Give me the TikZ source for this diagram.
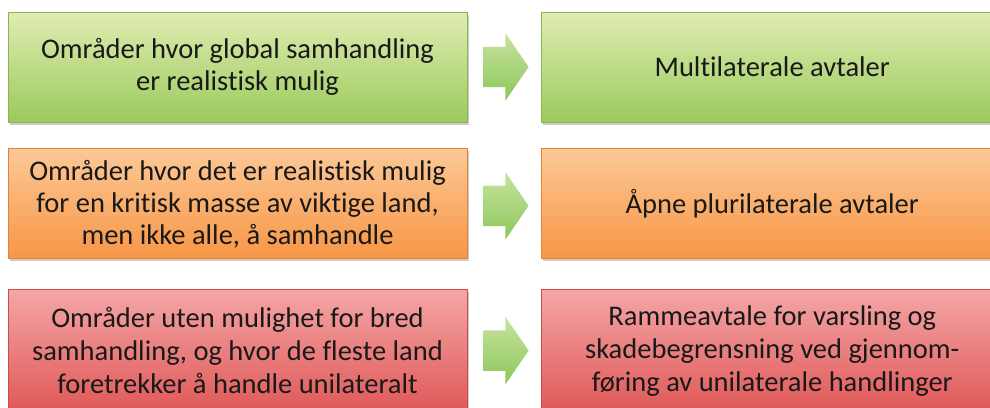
\documentclass[tikz,border=0pt]{standalone}
\usepackage{fontspec}
\setmainfont[Ligatures=NoCommon]{Carlito}
\definecolor{greentop}{RGB}{224, 236, 178}
\definecolor{greenbot}{RGB}{155, 202, 92}
\definecolor{greenline}{RGB}{140, 180, 80}
\definecolor{orangetop}{RGB}{252, 200, 150}
\definecolor{orangebot}{RGB}{247, 150, 70}
\definecolor{orangeline}{RGB}{228, 130, 55}
\definecolor{redtop}{RGB}{244, 166, 166}
\definecolor{redbot}{RGB}{224, 88, 88}
\definecolor{redline}{RGB}{205, 75, 75}
\definecolor{arrowtop}{RGB}{200, 226, 160}
\definecolor{arrowbot}{RGB}{140, 200, 90}
\usetikzlibrary{shapes.arrows, shadows, positioning}

\begin{document}
\begin{tikzpicture}[
    x=1pt, y=1pt,
    box/.style={rectangle, draw, line width=0.8pt, minimum width=459pt, minimum height=110pt,
        align=center, inner sep=0pt, text=black!90,
        font=\fontsize{28.5}{32}\selectfont,
        drop shadow={shadow xshift=1.5pt, shadow yshift=-2.5pt, fill=black!45, opacity=0.45}},
    greenbox/.style={box, draw=greenline, top color=greentop, bottom color=greenbot},
    orangebox/.style={box, draw=orangeline, top color=orangetop, bottom color=orangebot},
    redbox/.style={box, draw=redline, top color=redtop, bottom color=redbot,
        minimum height=122pt, font=\fontsize{28.5}{33}\selectfont},
    pil/.style={single arrow, draw=none, top color=arrowtop, bottom color=arrowbot,
        minimum height=45pt, single arrow head extend=13.5pt,
        single arrow tip angle=111, inner sep=0pt}
]
    \useasboundingbox (0,0) rectangle (990,-407);
    \clip (0,0) rectangle (990,-407);

    \node[greenbox] (omr1) at (237.5,-67) {Områder hvor global samhandling\\er realistisk mulig};
    \node[orangebox, below=26pt of omr1] (omr2) {Områder hvor det er realistisk mulig\\for en kritisk masse av viktige land,\\men ikke alle, å samhandle};
    \node[redbox, below=30pt of omr2] (omr3) {Områder uten mulighet for bred\\samhandling, og hvor de fleste land\\foretrekker å handle unilateralt};

    \node[pil, right=16pt of omr1] (pil1) {\rule{0pt}{40pt}};
    \node[pil, right=16pt of omr2, yshift=-2pt] (pil2) {\rule{0pt}{40pt}};
    \node[pil, right=16pt of omr3] (pil3) {\rule{0pt}{40pt}};

    \node[greenbox, minimum width=462pt, right=12pt of pil1] (avt1) {Multilaterale avtaler};
    \node[orangebox, minimum width=462pt, right=12pt of omr2.east -| pil2.east] (avt2) {Åpne plurilaterale avtaler};
    \node[redbox, minimum width=462pt, right=12pt of pil3] (avt3) {Rammeavtale for varsling og\\skadebegrensning ved gjennom-\\føring av unilaterale handlinger};
\end{tikzpicture}
\end{document}
